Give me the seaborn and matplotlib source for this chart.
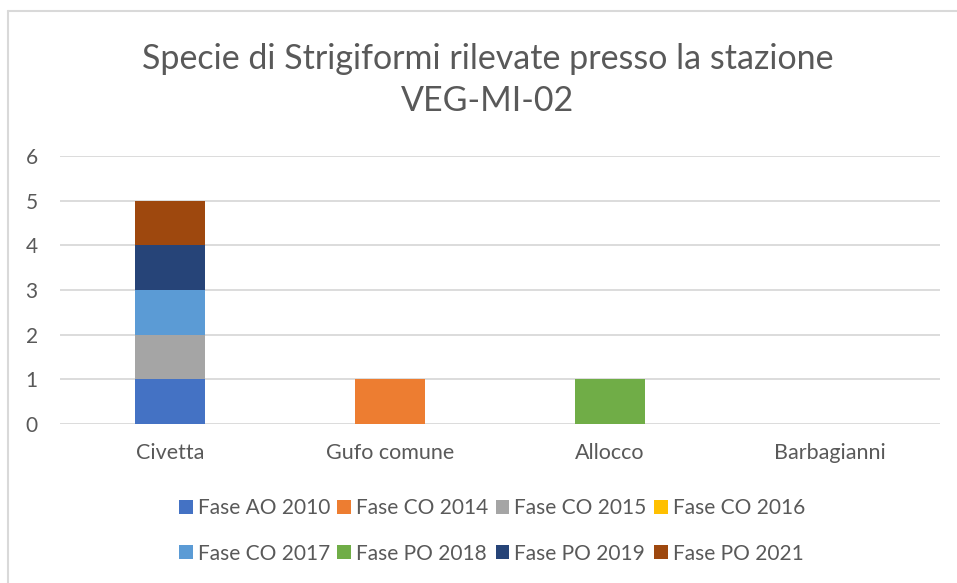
import matplotlib
matplotlib.use("Agg")
import matplotlib.pyplot as plt
import seaborn as sns
import numpy as np
from matplotlib.patches import Patch
from matplotlib.lines import Line2D

species = ["Civetta", "Gufo comune", "Allocco", "Barbagianni"]
phases = ["Fase AO 2010", "Fase CO 2014", "Fase CO 2015", "Fase CO 2016",
          "Fase CO 2017", "Fase PO 2018", "Fase PO 2019", "Fase PO 2021"]
ao_2010 = [1, 0, 0, 0]
co_2014 = [0, 1, 0, 0]
co_2015 = [1, 0, 0, 0]
co_2016 = [0, 0, 0, 0]
co_2017 = [1, 0, 0, 0]
po_2018 = [0, 0, 1, 0]
po_2019 = [1, 0, 0, 0]
po_2021 = [1, 0, 0, 0]
series = [ao_2010, co_2014, co_2015, co_2016, co_2017, po_2018, po_2019, po_2021]
colors = ["#4472C4", "#ED7D31", "#A5A5A5", "#FFC000",
          "#5B9BD5", "#70AD47", "#264478", "#9E480E"]
y_ticks = [0, 1, 2, 3, 4, 5, 6]
title = "Specie di Strigiformi rilevate presso la stazione\nVEG-MI-02"

sns.set_theme(style="white")
plt.rcParams["font.family"] = ["Lato", "DejaVu Sans"]
text_col = "#595959"

fig = plt.figure(figsize=(9.57, 5.83), dpi=100)
ax = fig.add_axes([60 / 957, 1 - 424 / 583, 880 / 957, 268 / 583])

bottom = np.zeros(len(species))
for name, vals, col in zip(phases, series, colors):
    sns.barplot(x=species, y=vals, bottom=bottom, color=col, width=0.318,
                ax=ax, saturation=1, linewidth=0, zorder=3)
    bottom += np.array(vals)

ax.set_ylim(0, 6)
ax.set_xlim(-0.5, len(species) - 0.5)
ax.set_yticks(y_ticks)
ax.set_yticklabels([str(t) for t in y_ticks])
ax.yaxis.grid(True, color="#D9D9D9", linewidth=1.3, zorder=0)
ax.xaxis.grid(False)
for s in ax.spines.values():
    s.set_visible(False)
ax.tick_params(axis="y", length=0, pad=16, labelsize=15, labelcolor=text_col)
ax.tick_params(axis="x", length=0, pad=14, labelsize=15.5, labelcolor=text_col)
ax.set_xlabel("")
ax.set_ylabel("")

fig.text(488 / 957, 1 - 80 / 583, title, ha="center", va="center",
         fontsize=24.5, color=text_col, linespacing=1.35)

# legend filled row by row (4 columns, 2 rows)
ncol = 4
order = [r * ncol + c for c in range(ncol) for r in range(2)]
handles = [Patch(facecolor=colors[i], edgecolor="none") for i in order]
labels = [phases[i] for i in order]
leg = fig.legend(handles, labels, loc="center", ncol=ncol,
                 bbox_to_anchor=(492 / 957, 1 - 531 / 583), frameon=False,
                 fontsize=15, handlelength=0.65, handleheight=0.65,
                 handletextpad=0.25, columnspacing=0.35, labelspacing=1.2)
for t in leg.get_texts():
    t.set_color(text_col)

# chart frame edges
fig.add_artist(Line2D([8 / 957, 1], [1 - 11 / 583] * 2, color="#D9D9D9",
                      linewidth=1.5, transform=fig.transFigure))
fig.add_artist(Line2D([8 / 957] * 2, [0, 1 - 11 / 583], color="#D9D9D9",
                      linewidth=1.5, transform=fig.transFigure))

fig.savefig("out.png", dpi=100, facecolor="white")
